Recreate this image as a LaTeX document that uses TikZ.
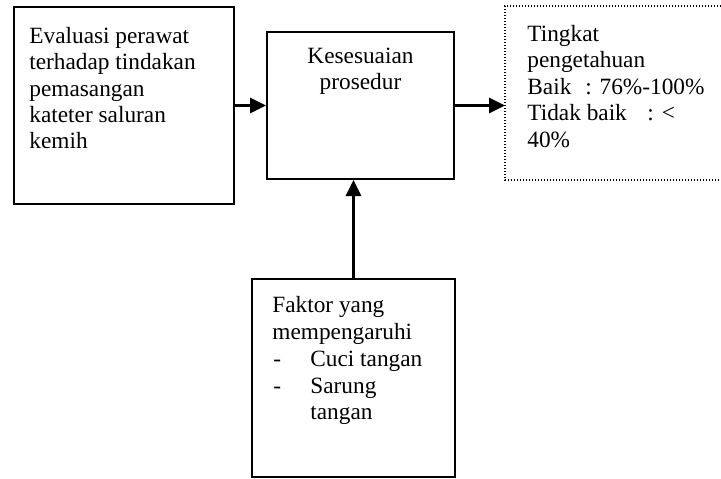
\documentclass[tikz,border=0pt]{standalone}
\usepackage{fontspec}
\setmainfont{Liberation Serif}
\usetikzlibrary{arrows.meta}
\begin{document}
\begin{tikzpicture}[x=0.5pt,y=-0.5pt,
  box/.style={draw=black,line width=1pt,inner sep=0pt,rectangle},
  txt/.style={anchor=base west,inner sep=0pt,font=\fontsize{11.65}{13.2}\selectfont},
  ctxt/.style={anchor=base,inner sep=0pt,font=\fontsize{11.65}{13.2}\selectfont},
  arr/.style={line width=1.4pt,-{Triangle[length=8pt,width=7.5pt]}},
  dotbox/.style={line width=0.9pt,dash pattern=on 0.7pt off 0.8pt}]
\useasboundingbox (0,0) rectangle (721,478);
% boxes
\node[box,minimum width=110pt,minimum height=98.5pt] (eval) at (124,105.5) {};
\node[box,minimum width=93.5pt,minimum height=73.5pt] (kes) at (360.5,105.5) {};
\node[box,minimum width=101.5pt,minimum height=99pt] (fak) at (353.5,378) {};
\draw[dotbox] (721,6) -- (505,6) -- (505,180) -- (721,180);
\coordinate (tin) at (505,105.5);
% texts left
\node[txt] (e1) at (29,43) {Evaluasi perawat};
\node[txt] (e2) at (29,69) {terhadap tindakan};
\node[txt] (e3) at (29,96) {pemasangan};
\node[txt] (e4) at (29,122) {kateter saluran};
\node[txt] (e5) at (29,148) {kemih};
% middle
\node[ctxt] (k1) at (360.5,63) {Kesesuaian};
\node[ctxt] (k2) at (360.5,89) {prosedur};
% right
\node[txt] (t1) at (527,41) {Tingkat};
\node[txt] (t2) at (527,67) {pengetahuan};
\node[txt] (t3) at (527,94) {Baik};
\node[txt] (t3b) at (585,94) {: 76\%-100\%};
\node[txt] (t4) at (527,120) {Tidak baik};
\node[txt] (t4b) at (647,120) {:\hspace{4pt}<};
\node[txt] (t5) at (527,147) {40\%};
% bottom
\node[txt] (f1) at (272,312) {Faktor yang};
\node[txt] (f2) at (272,339) {mempengaruhi};
\node[txt] (f3a) at (273,366) {-};
\node[txt] (f3) at (310,366) {Cuci tangan};
\node[txt] (f4a) at (273,393) {-};
\node[txt] (f4) at (310,393) {Sarung};
\node[txt] (f5) at (310,419) {tangan};
% arrows
\draw[arr] (eval.east) -- (kes.west);
\draw[arr] (kes.east) -- (tin);
\draw[arr] (fak.north) -- (fak.north |- kes.south);
\end{tikzpicture}
\end{document}
